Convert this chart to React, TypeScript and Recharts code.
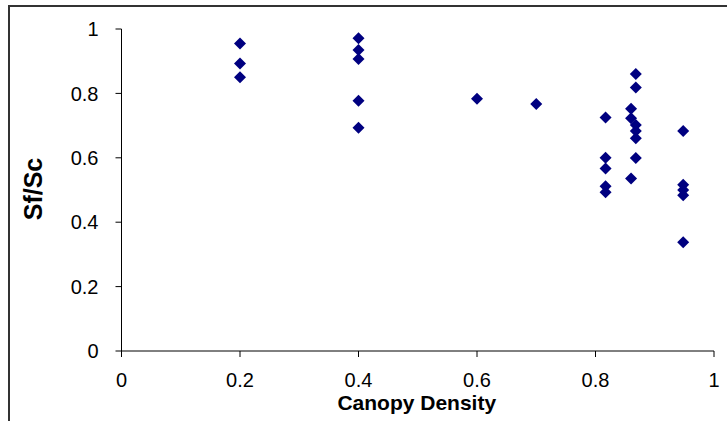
import { ScatterChart, Scatter, XAxis, YAxis, Label } from "recharts";

// canopy density / Sf/Sc readings, grouped by site column
const density = [
  0.2, 0.2, 0.2,
  0.4, 0.4, 0.4, 0.4, 0.4,
  0.6, 0.7,
  0.817, 0.817, 0.817, 0.817, 0.817,
  0.86, 0.86, 0.86,
  0.868, 0.868, 0.868, 0.868, 0.868, 0.868,
  0.948, 0.948, 0.948, 0.948, 0.948,
];
const ratio = [
  0.955, 0.893, 0.85,
  0.971, 0.935, 0.907, 0.777, 0.693,
  0.783, 0.767,
  0.725, 0.6, 0.567, 0.512, 0.493,
  0.752, 0.723, 0.536,
  0.86, 0.818, 0.702, 0.683, 0.661, 0.599,
  0.683, 0.516, 0.5, 0.484, 0.338,
];
const xTicks = [0, 0.2, 0.4, 0.6, 0.8, 1];
const yTicks = [0, 0.2, 0.4, 0.6, 0.8, 1];

const points = density.map((d, i) => ({ x: d, y: ratio[i] }));

const FONT = "'Liberation Sans', Arial, sans-serif";

const Diamond = (props: any) => {
  const { cx, cy } = props;
  const r = 6;
  return (
    <polygon
      points={`${cx},${cy - r} ${cx + r},${cy} ${cx},${cy + r} ${cx - r},${cy}`}
      fill="#000080"
    />
  );
};

export default function App() {
  return (
    <div
      style={{
        position: "absolute",
        left: 0,
        top: 0,
        width: 727,
        height: 421,
        overflow: "hidden",
        background: "#fff",
      }}
    >
      {/* chart frame, runs off the right and bottom edges */}
      <div
        style={{
          position: "absolute",
          left: 8,
          top: 5,
          width: 800,
          height: 500,
          border: "2px solid #333",
        }}
      />
      <div style={{ position: "absolute", left: 0, top: 0 }}>
        <ScatterChart
          width={727}
          height={421}
          margin={{ top: 29, right: 13, bottom: 0, left: 0 }}
        >
          <XAxis
            type="number"
            dataKey="x"
            domain={[0, 1]}
            ticks={xTicks}
            height={70}
            tickSize={6}
            tickMargin={16}
            stroke="#000"
            tick={{ fill: "#000", fontSize: 20, fontFamily: FONT }}
          >
            <Label
              content={({ viewBox }: any) => (
                <text
                  x={viewBox.x + viewBox.width / 2 - 1}
                  y={viewBox.y + 59}
                  textAnchor="middle"
                  fontFamily={FONT}
                  fontWeight="bold"
                  fontSize={21}
                  fill="#000"
                >
                  Canopy Density
                </text>
              )}
            />
          </XAxis>
          <YAxis
            type="number"
            dataKey="y"
            domain={[0, 1]}
            ticks={yTicks}
            width={121.5}
            tickSize={6}
            tickMargin={17}
            stroke="#000"
            tick={{ fill: "#000", fontSize: 20, fontFamily: FONT }}
          >
            <Label
              content={({ viewBox }: any) => {
                const cx = 33;
                const cy = viewBox.y + viewBox.height / 2 - 1;
                return (
                  <text
                    x={cx}
                    y={cy}
                    transform={`rotate(-90, ${cx}, ${cy})`}
                    textAnchor="middle"
                    dominantBaseline="central"
                    fontFamily={FONT}
                    fontWeight="bold"
                    fontSize={25}
                    fill="#000"
                  >
                    Sf/Sc
                  </text>
                );
              }}
            />
          </YAxis>
          <Scatter data={points} shape={Diamond} isAnimationActive={false} />
        </ScatterChart>
      </div>
    </div>
  );
}
